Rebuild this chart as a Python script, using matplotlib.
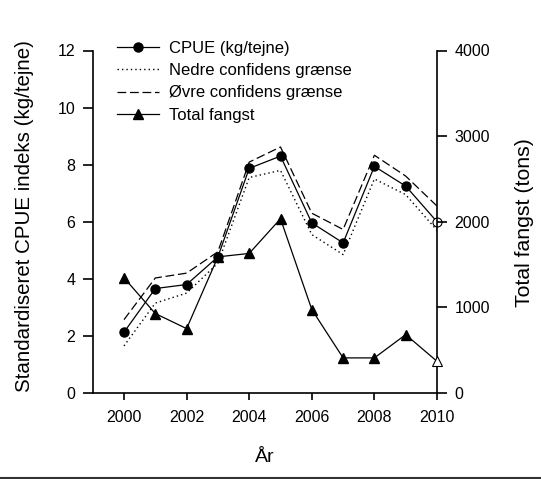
import matplotlib
matplotlib.use("Agg")
import matplotlib.pyplot as plt
from matplotlib.lines import Line2D

plt.rcParams['font.family'] = ['Liberation Sans', 'DejaVu Sans']

years = [2000, 2001, 2002, 2003, 2004, 2005, 2006, 2007, 2008, 2009, 2010]
cpue = [2.13, 3.66, 3.80, 4.77, 7.87, 8.30, 5.96, 5.26, 7.94, 7.25, 6.0]
lower_ci = [1.65, 3.15, 3.50, 4.55, 7.55, 7.80, 5.55, 4.85, 7.50, 6.95, 5.70]
upper_ci = [2.57, 4.03, 4.20, 4.95, 8.09, 8.62, 6.30, 5.73, 8.33, 7.60, 6.55]
total_catch = [1345, 928, 752, 1590, 1630, 2035, 975, 410, 410, 682, 370]

label_cpue = "CPUE (kg/tejne)"
label_lower = "Nedre confidens grænse"
label_upper = "Øvre confidens grænse"
label_catch = "Total fangst"

W, H = 541, 479
fig = plt.figure(figsize=(W / 100, H / 100), dpi=100)
L, R, B, T = 92.7, 437, 393, 50.5
ax = fig.add_axes([L / W, 1 - B / H, (R - L) / W, (B - T) / H])
ax2 = ax.twinx()

lw = 0.9
ms = 6.5
ax.plot(years, lower_ci, color='black', lw=1.0, ls=(0, (1, 2.2)), label=label_lower)
ax.plot(years, upper_ci, color='black', lw=lw, ls=(0, (7, 3)), label=label_upper)
ax.plot(years[:-1], cpue[:-1], color='black', lw=lw, marker='o', ms=ms)
ax.plot(years[-2:], cpue[-2:], color='black', lw=lw)
ax.plot(years[-1:], cpue[-1:], ls='none', marker='o', ms=ms, mfc='white', mec='black', mew=0.8, clip_on=False, zorder=5)

ax2.plot(years[:-1], total_catch[:-1], color='black', lw=lw, marker='^', ms=ms + 0.5)
ax2.plot(years[-2:], total_catch[-2:], color='black', lw=lw)
ax2.plot(years[-1:], total_catch[-1:], ls='none', marker='^', ms=ms + 0.5, mfc='white', mec='black', mew=0.8, clip_on=False, zorder=5)

ax.set_xlim(1999, 2010)
ax.set_ylim(0, 12)
ax2.set_ylim(0, 4000)
ax.set_xticks([2000, 2002, 2004, 2006, 2008, 2010])
ax.set_yticks([0, 2, 4, 6, 8, 10, 12])
ax2.set_yticks([0, 1000, 2000, 3000, 4000])

for a in (ax, ax2):
    a.spines['top'].set_visible(False)
    for s in a.spines.values():
        s.set_linewidth(1.2)
ax.spines['right'].set_visible(False)
ax2.spines['left'].set_visible(False)
ax2.spines['bottom'].set_visible(False)

fs = 11.5
ax.tick_params(axis='y', direction='out', length=7.5, width=1.2, pad=5, labelsize=fs)
ax.tick_params(axis='x', direction='out', length=5, width=1.2, pad=7, labelsize=fs)
ax2.tick_params(axis='y', direction='out', length=7.5, width=1.2, pad=5, labelsize=fs)

fig.text(25 / W, 1 - 216 / H, "Standardiseret CPUE indeks (kg/tejne)", rotation=90,
         ha='center', va='center', fontsize=14.8)
fig.text(525 / W, 1 - 223 / H, "Total fangst (tons)", rotation=90,
         ha='center', va='center', fontsize=15.3)
fig.text(265 / W, 1 - 458 / H, "År", ha='center', va='center', fontsize=14)

handles = [
    Line2D([], [], color='black', lw=lw, marker='o', ms=ms),
    Line2D([], [], color='black', lw=1.0, ls=(0, (1, 2.2))),
    Line2D([], [], color='black', lw=lw, ls=(0, (7, 3))),
    Line2D([], [], color='black', lw=lw, marker='^', ms=ms + 0.5),
]
labels = [label_cpue, label_lower, label_upper, label_catch]
fig.legend(handles, labels, loc='upper left', bbox_to_anchor=(117 / W, 1 - 40.5 / H),
           frameon=False, fontsize=12, handlelength=2.5, handletextpad=0.6,
           labelspacing=0.45, borderpad=0, borderaxespad=0)

fig.add_artist(Line2D([0, 1], [1 - 477.5 / H, 1 - 477.5 / H], transform=fig.transFigure,
                      color='#333333', lw=1.5))

fig.savefig("out.png", dpi=100)
